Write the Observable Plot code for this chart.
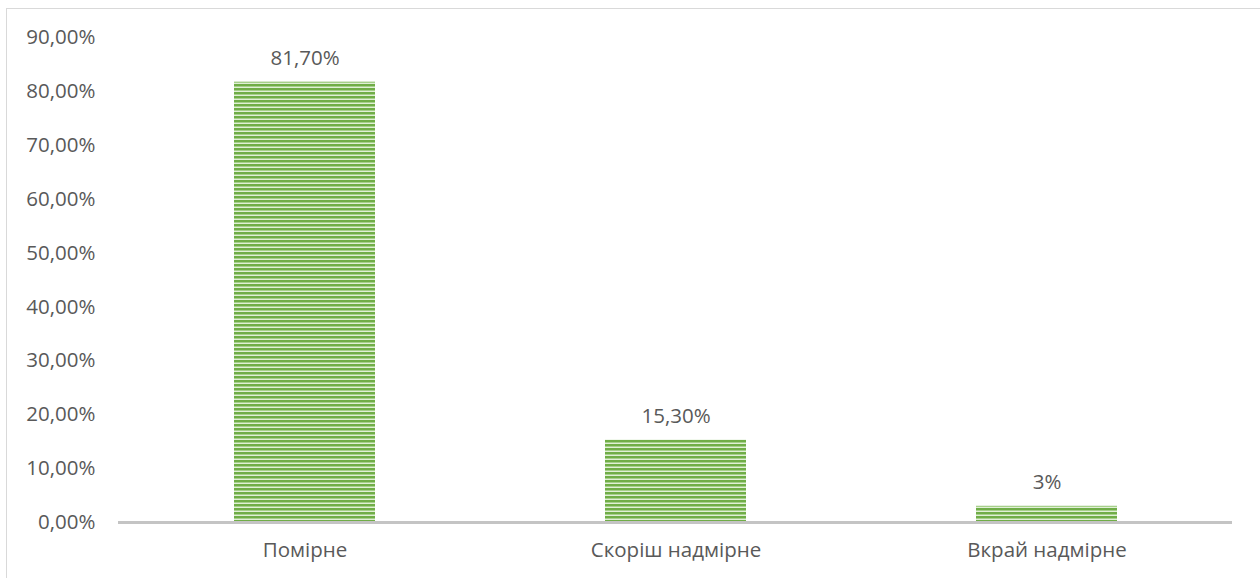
<!DOCTYPE html>
<html>
<head>
<meta charset="utf-8">
<script src="https://cdn.jsdelivr.net/npm/d3@7"></script>
<script src="https://cdn.jsdelivr.net/npm/@observablehq/plot@0.6"></script>
<style>
  html, body { margin: 0; padding: 0; background: #fff; }
  #wrap { position: relative; width: 1260px; height: 578px; overflow: hidden; }
  #border { position: absolute; left: 6px; top: 8px; width: 1260px; height: 600px; border: 1.5px solid #d9d9d9; box-sizing: border-box; }
  #chart { position: absolute; left: 0; top: 0; }
</style>
</head>
<body>
<div id="wrap"><div id="border"></div><div id="chart"></div></div>
<script>
const categories = ["Помірне", "Скоріш надмірне", "Вкрай надмірне"];
const values = [0.817, 0.153, 0.03];
const labels = ["81,70%", "15,30%", "3%"];
const yTicks = [0, 0.1, 0.2, 0.3, 0.4, 0.5, 0.6, 0.7, 0.8, 0.9];

const data = categories.map((c, i) => ({category: c, value: values[i], label: labels[i]}));
const font = "'Open Sans', sans-serif";

const plot = Plot.plot({
  width: 1260,
  height: 578,
  marginLeft: 118,
  marginRight: 28,
  marginTop: 37,
  marginBottom: 56,
  style: {fontFamily: font, fontSize: "20.5px", color: "#595959", background: "transparent"},
  x: {domain: categories, paddingInner: 0.62, paddingOuter: 0.31, label: null, tickSize: 0, tickPadding: 20},
  y: {domain: [0, 0.9], ticks: yTicks, label: null, tickSize: 0, tickPadding: 23,
      tickFormat: d => (d * 100).toFixed(2).replace(".", ",") + "%"},
  marks: [
    Plot.barY(data, {x: "category", y: "value", fill: "url(#greenStripes)"}),
    Plot.ruleY([0], {stroke: "#c4c4c4", strokeWidth: 3}),
    Plot.text(data, {x: "category", y: "value", text: "label", dy: -24, fontSize: 20.5})
  ]
});

const svg = d3.select(plot);
const defs = svg.insert("defs", ":first-child");
const pat = defs.append("pattern")
  .attr("id", "greenStripes")
  .attr("patternUnits", "userSpaceOnUse")
  .attr("width", 8).attr("height", 4);
pat.append("rect").attr("x", 0).attr("y", 0).attr("width", 8).attr("height", 4).attr("fill", "#e0efd6");
pat.append("rect").attr("x", 0).attr("y", 0).attr("width", 8).attr("height", 2).attr("fill", "#70ad47");
pat.append("rect").attr("x", 0).attr("y", 2).attr("width", 8).attr("height", 1).attr("fill", "#a6d08a");

svg.selectAll("text").attr("fill", "#595959");
document.getElementById("chart").appendChild(plot);
</script>
</body>
</html>
